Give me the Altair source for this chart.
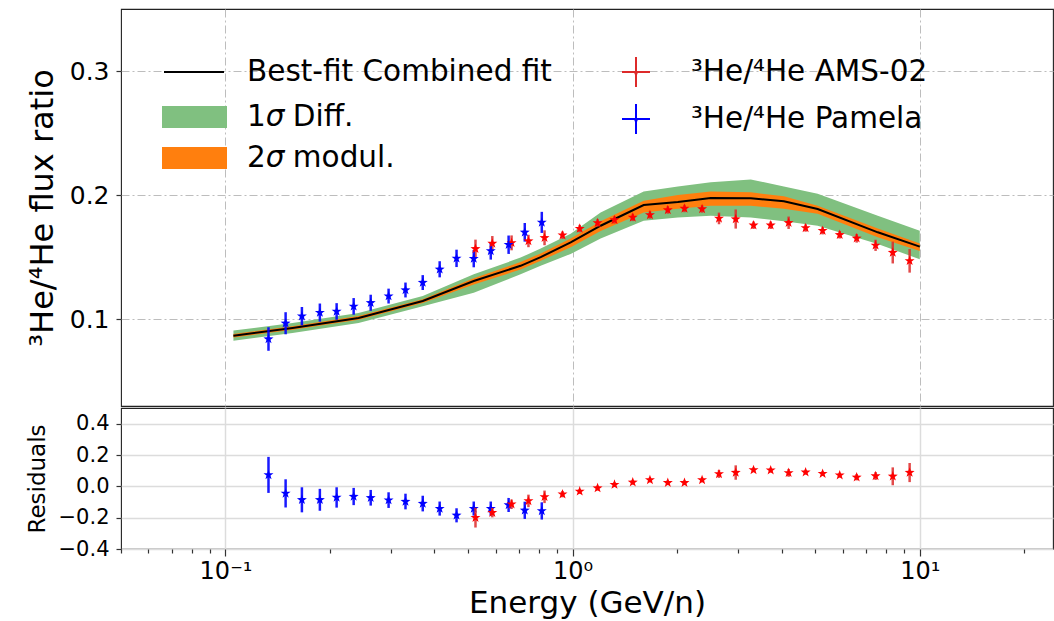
import altair as alt
import pandas as pd

# ---------------- data ----------------
# Model (best-fit line and uncertainty bands)
model_E = [0.1054, 0.156, 0.2417, 0.370, 0.519, 0.708, 0.809, 0.987, 1.204, 1.602,
           2.01, 2.50, 3.26, 4.06, 5.08, 7.57, 10.0]
model_line = [0.0866, 0.0929, 0.101, 0.1146, 0.1308, 0.143, 0.150, 0.1618, 0.1753, 0.192,
              0.1945, 0.1977, 0.1974, 0.1950, 0.1888, 0.170, 0.1585]
diff_lo = [0.0826, 0.0889, 0.097, 0.1105, 0.1213, 0.1362, 0.143, 0.1526, 0.165, 0.1794,
           0.182, 0.1834, 0.182, 0.179, 0.1753, 0.1605, 0.1483]
diff_hi = [0.0908, 0.097, 0.105, 0.1186, 0.1362, 0.1496, 0.157, 0.1688, 0.186, 0.2028,
           0.207, 0.2104, 0.2126, 0.207, 0.201, 0.1834, 0.1713]
mod_lo = [0.0852, 0.0915, 0.0995, 0.113, 0.128, 0.140, 0.147, 0.158, 0.171, 0.186,
          0.189, 0.1915, 0.1915, 0.189, 0.185, 0.166, 0.155]
mod_hi = [0.0880, 0.0943, 0.1025, 0.116, 0.133, 0.146, 0.153, 0.165, 0.179, 0.1955,
          0.200, 0.2028, 0.2023, 0.199, 0.1915, 0.173, 0.161]

# AMS-02 3He/4He
ams_E = [0.525, 0.587, 0.667, 0.746, 0.83, 0.935, 1.048, 1.18, 1.32, 1.49, 1.67, 1.88, 2.10,
         2.36, 2.64, 2.95, 3.32, 3.72, 4.19, 4.69, 5.25, 5.88, 6.58, 7.46, 8.36, 9.35]
ams_ratio = [0.1567, 0.161, 0.1615, 0.163, 0.1656, 0.1677, 0.173, 0.1776, 0.180, 0.182, 0.184,
             0.188, 0.1892, 0.1888, 0.1812, 0.1807, 0.1757, 0.1757, 0.1777, 0.1735, 0.1713,
             0.168, 0.1652, 0.1595, 0.1537, 0.147]
ams_err = [0.0074, 0.006, 0.006, 0.005, 0.006, 0.003, 0.003, 0.003, 0.003, 0.003, 0.003, 0.003,
           0.003, 0.003, 0.0047, 0.0077, 0.003, 0.003, 0.005, 0.003, 0.003, 0.003, 0.0035,
           0.0045, 0.0088, 0.0095]
ams_res = [-0.20, -0.168, -0.114, -0.093, -0.067, -0.05, -0.032, -0.011, 0.011, 0.026, 0.041,
           0.023, 0.023, 0.041, 0.079, 0.088, 0.105, 0.103, 0.086, 0.09, 0.081, 0.071, 0.058,
           0.066, 0.064, 0.088]
ams_res_err = [0.063, 0.03, 0.03, 0.04, 0.04, 0.02, 0.015, 0.015, 0.015, 0.015, 0.015, 0.015,
               0.015, 0.015, 0.025, 0.046, 0.015, 0.015, 0.025, 0.015, 0.015, 0.015, 0.02,
               0.025, 0.057, 0.061]

# PAMELA 3He/4He
pam_E = [0.133, 0.149, 0.166, 0.187, 0.209, 0.234, 0.262, 0.295, 0.330, 0.370, 0.414, 0.463,
         0.519, 0.581, 0.654, 0.728, 0.815]
pam_ratio = [0.0840, 0.0967, 0.1024, 0.1053, 0.1062, 0.1103, 0.1132, 0.1186, 0.1235, 0.1295,
             0.1402, 0.149, 0.1488, 0.155, 0.1600, 0.170, 0.178]
pam_err = [0.0095, 0.0089, 0.0074, 0.0073, 0.0067, 0.0067, 0.0065, 0.006, 0.006, 0.006, 0.0065,
           0.007, 0.007, 0.007, 0.0074, 0.0075, 0.0085]
pam_res = [0.073, -0.045, -0.086, -0.086, -0.071, -0.065, -0.073, -0.088, -0.097, -0.11,
           -0.142, -0.185, -0.142, -0.142, -0.119, -0.153, -0.157]
pam_res_err = [0.115, 0.09, 0.08, 0.07, 0.065, 0.055, 0.05, 0.05, 0.05, 0.05, 0.045, 0.045,
               0.045, 0.045, 0.045, 0.055, 0.055]

x_major = [0.1, 1, 10]
x_minor = [0.05, 0.06, 0.07, 0.08, 0.09, 0.2, 0.3, 0.4, 0.5, 0.6, 0.7, 0.8, 0.9,
           2, 3, 4, 5, 6, 7, 8, 9, 20]
y_top_ticks = [0.1, 0.2, 0.3]
y_bot_ticks = [-0.4, -0.2, 0.0, 0.2, 0.4]

legend_fit = "Best-fit Combined fit"
legend_diff = ["1", "σ", "Diff."]
legend_mod = ["2", "σ", "modul."]
legend_right = ["³He/⁴He AMS-02", "³He/⁴He Pamela"]

# ---------------- frames ----------------
model = pd.DataFrame({"E": model_E, "line": model_line, "glo": diff_lo, "ghi": diff_hi,
                      "olo": mod_lo, "ohi": mod_hi})
ams = pd.DataFrame({"E": ams_E, "r": ams_ratio,
                    "lo": [v - e for v, e in zip(ams_ratio, ams_err)],
                    "hi": [v + e for v, e in zip(ams_ratio, ams_err)],
                    "res": ams_res,
                    "rlo": [v - e for v, e in zip(ams_res, ams_res_err)],
                    "rhi": [v + e for v, e in zip(ams_res, ams_res_err)]})
pam = pd.DataFrame({"E": pam_E, "r": pam_ratio,
                    "lo": [v - e for v, e in zip(pam_ratio, pam_err)],
                    "hi": [v + e for v, e in zip(pam_ratio, pam_err)],
                    "res": pam_res,
                    "rlo": [v - e for v, e in zip(pam_res, pam_res_err)],
                    "rhi": [v + e for v, e in zip(pam_res, pam_res_err)]})

# ---------------- styling ----------------
FONT = "DejaVu Sans"
W = 932
H_TOP = 397
H_BOT = 141
STAR = ("M0,-1L0.235,-0.324L0.951,-0.309L0.380,0.124L0.588,0.809L0,0.4L-0.588,0.809"
        "L-0.380,0.124L-0.951,-0.309L-0.235,-0.324Z")
RED = "#ff0000"
RED_BAR = "#dd2a2a"
BLUE = "#0000ff"
GREEN = "#80c080"
ORANGE = "#ff7f0e"
GRID = "#bdbdbd"

xscale = alt.Scale(type="log", domain=[0.05, 24.2], nice=False)
yscale_top = alt.Scale(domain=[0.03, 0.35], nice=False, zero=False)
yscale_bot = alt.Scale(domain=[-0.4, 0.5], nice=False, zero=False)

x_top_axis = alt.Axis(title=None, labels=False, ticks=False, domain=False, values=x_major,
                      grid=True, gridDash=[8, 3, 2, 3], gridColor=GRID, gridWidth=1)
y_top_axis = alt.Axis(title="³He/⁴He flux ratio", values=y_top_ticks, format=".1f",
                      grid=True, gridDash=[8, 3, 2, 3], gridColor=GRID, gridWidth=1,
                      domain=False, tickSize=5, tickColor="#333", tickWidth=1.2,
                      labelFontSize=25, labelFont=FONT, labelColor="black", labelPadding=7,
                      titleFontSize=32, titleFont=FONT, titleFontWeight="normal",
                      titleColor="black", titlePadding=10)

major_test = "datum.value == 0.1 || datum.value == 1 || datum.value == 10"
x_bot_axis = alt.Axis(title="Energy (GeV/n)", values=x_major + x_minor,
                      labelExpr="datum.value == 0.1 ? '10⁻¹' : datum.value == 1 ? '10⁰' : "
                                "datum.value == 10 ? '10¹' : ''",
                      grid=True, gridColor="#dcdcdc", gridWidth=1.5,
                      gridOpacity={"condition": {"test": major_test, "value": 1}, "value": 0},
                      tickSize={"condition": {"test": major_test, "value": 7}, "value": 4},
                      tickColor="#333", tickWidth=1.2, domain=False,
                      labelFontSize=24, labelFont=FONT, labelColor="black", labelPadding=3,
                      labelFlush=False,
                      titleFontSize=31, titleFont=FONT, titleFontWeight="normal",
                      titleColor="black", titlePadding=5)
y_bot_axis = alt.Axis(title="Residuals", values=y_bot_ticks, format=".1f",
                      grid=True, gridColor="#dcdcdc", gridWidth=1.5,
                      domain=False, tickSize=5, tickColor="#333", tickWidth=1.2,
                      labelFontSize=21, labelFont=FONT, labelColor="black", labelPadding=7,
                      titleFontSize=23, titleFont=FONT, titleFontWeight="normal",
                      titleColor="black", titlePadding=9)


def XT():
    return alt.X("E:Q", scale=xscale, axis=x_top_axis)


def YT(f):
    return alt.Y(f"{f}:Q", scale=yscale_top, axis=y_top_axis)


def XB():
    return alt.X("E:Q", scale=xscale, axis=x_bot_axis)


def YB(f):
    return alt.Y(f"{f}:Q", scale=yscale_bot, axis=y_bot_axis)


# ---------------- top panel ----------------
green = alt.Chart(model).mark_area(color=GREEN, opacity=1).encode(x=XT(), y=YT("glo"), y2="ghi")
orange = alt.Chart(model).mark_area(color=ORANGE, opacity=1).encode(x=XT(), y=YT("olo"), y2="ohi")
line = alt.Chart(model).mark_line(color="black", strokeWidth=2).encode(x=XT(), y=YT("line"))

ams_bar = alt.Chart(ams).mark_rule(color=RED_BAR, strokeWidth=2.5, opacity=0.85).encode(
    x=XT(), y=YT("lo"), y2="hi")
ams_pt = alt.Chart(ams).mark_point(shape=STAR, filled=True, size=110, color=RED, opacity=1).encode(
    x=XT(), y=YT("r"))
pam_bar = alt.Chart(pam).mark_rule(color=BLUE, strokeWidth=2.5, opacity=0.9).encode(
    x=XT(), y=YT("lo"), y2="hi")
pam_pt = alt.Chart(pam).mark_point(shape=STAR, filled=True, size=110, color=BLUE, opacity=1).encode(
    x=XT(), y=YT("r"))

# legend (drawn as decoration in pixel space of the top panel)
LFS = 29.5
TX = 126
r1, r2, r3 = 63, 108, 149


def txt(label, x, y, italic=False):
    return alt.Chart(pd.DataFrame({"t": [label]})).mark_text(
        align="left", baseline="middle", font=FONT, fontSize=LFS, color="black",
        fontStyle="italic" if italic else "normal").encode(
        text="t:N", x=alt.value(x), y=alt.value(y))


leg_layers = []
d0 = pd.DataFrame({"t": [legend_fit]})
leg_layers.append(alt.Chart(d0).mark_rule(color="black", strokeWidth=2).encode(
    x=alt.value(43), x2=alt.value(103), y=alt.value(r1)))
leg_layers.append(txt(legend_fit, TX, r1))

w1 = 0.636 * LFS      # width of a digit
ws = 0.60 * LFS       # width of sigma
wsp = 0.318 * LFS     # width of a space
for parts, col, ry in [(legend_diff, GREEN, r2), (legend_mod, ORANGE, r3)]:
    dd = pd.DataFrame({"t": ["".join(parts)]})
    leg_layers.append(alt.Chart(dd).mark_rect(color=col).encode(
        x=alt.value(41), x2=alt.value(106), y=alt.value(ry - 11), y2=alt.value(ry + 11)))
    leg_layers.append(txt(parts[0], TX, ry))
    leg_layers.append(txt(parts[1], TX + w1, ry, italic=True))
    leg_layers.append(txt(parts[2], TX + w1 + ws + wsp, ry))

for lab, col, ry in [(legend_right[0], RED_BAR, 63), (legend_right[1], BLUE, 110)]:
    dd = pd.DataFrame({"t": [lab]})
    leg_layers.append(alt.Chart(dd).mark_rule(color=col, strokeWidth=2).encode(
        x=alt.value(515), y=alt.value(ry - 15), y2=alt.value(ry + 15)))
    leg_layers.append(alt.Chart(dd).mark_rule(color=col, strokeWidth=2).encode(
        x=alt.value(501), x2=alt.value(529), y=alt.value(ry)))
    leg_layers.append(alt.Chart(dd).mark_point(shape=STAR, filled=True, size=40, color=col,
                                               opacity=1).encode(
        x=alt.value(515), y=alt.value(ry)))
    leg_layers.append(txt(lab, 570, ry))

top = alt.layer(green, orange, line, ams_bar, pam_bar, ams_pt, pam_pt, *leg_layers).properties(
    width=W, height=H_TOP)

# ---------------- residual panel ----------------
ams_rbar = alt.Chart(ams).mark_rule(color=RED_BAR, strokeWidth=2.5, opacity=0.85).encode(
    x=XB(), y=YB("rlo"), y2="rhi")
ams_rpt = alt.Chart(ams).mark_point(shape=STAR, filled=True, size=110, color=RED, opacity=1).encode(
    x=XB(), y=YB("res"))
pam_rbar = alt.Chart(pam).mark_rule(color=BLUE, strokeWidth=2.5, opacity=0.9).encode(
    x=XB(), y=YB("rlo"), y2="rhi")
pam_rpt = alt.Chart(pam).mark_point(shape=STAR, filled=True, size=110, color=BLUE, opacity=1).encode(
    x=XB(), y=YB("res"))

bottom = alt.layer(pam_rbar, pam_rpt, ams_rbar, ams_rpt).properties(width=W, height=H_BOT)

chart = alt.vconcat(top, bottom, spacing=0).properties(
    padding={"left": 25, "top": 8, "right": 0, "bottom": 0},
    background="white",
).configure_view(stroke="#222222", strokeWidth=1.1)

chart.save("out.html", embed_options={"renderer": "svg", "actions": False})
